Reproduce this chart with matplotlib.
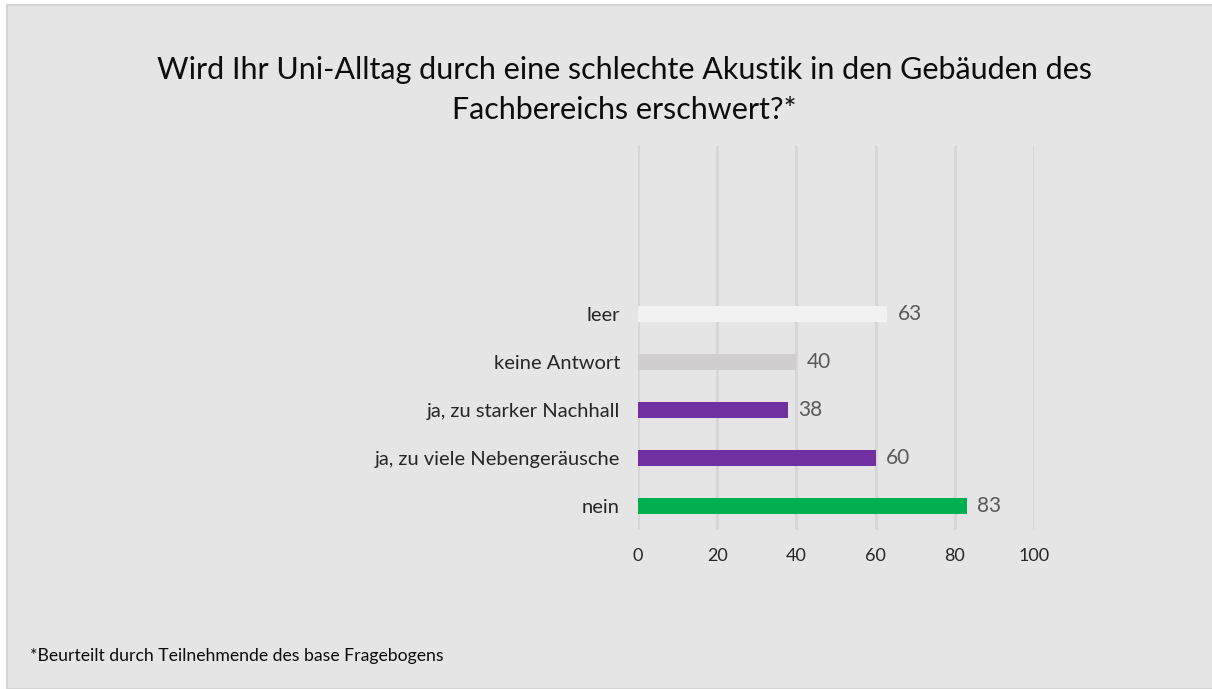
import matplotlib.pyplot as plt
from matplotlib.patches import Rectangle

plt.rcParams['font.family'] = ['Lato', 'DejaVu Sans']

# categories bottom -> top; top three slots are empty in the original chart
categories = ['nein', 'ja, zu viele Nebengeräusche', 'ja, zu starker Nachhall',
              'keine Antwort', 'leer', '', '', '']
values = [83, 60, 38, 40, 63, None, None, None]
bar_colors = ['#00b050', '#7030a0', '#7030a0', '#d0cece', '#f2f2f2', 'none', 'none', 'none']
xticks = [0, 20, 40, 60, 80, 100]

title = 'Wird Ihr Uni-Alltag durch eine schlechte Akustik in den Gebäuden des\nFachbereichs erschwert?*'
footnote = '*Beurteilt durch Teilnehmende des base Fragebogens'

W, H = 1212, 689
fig = plt.figure(figsize=(W / 100, H / 100), dpi=100, facecolor='white')
fig.patches.append(Rectangle((7 / W, 0), 1, 1 - 5 / H, transform=fig.transFigure,
                             facecolor='#e5e5e5', edgecolor='#d4d4d4', lw=1.5, zorder=-10))

ax = fig.add_axes([638 / W, 1 - 530 / H, (1034 - 638) / W, (530 - 146) / H])
ax.set_facecolor('none')
ax.set_zorder(5)

ypos = list(range(len(categories)))
for y, v, c in zip(ypos, values, bar_colors):
    if v is None:
        continue
    ax.barh(y, v, height=0.35, color=c, zorder=3)
    ax.text(v + 2.5, y, f'{v}', va='center', ha='left', fontsize=15, color='#595959')

ax.set_xlim(0, 100)
ax.set_ylim(-0.5, len(categories) - 0.5)
ax.set_xticks(xticks)
ax.set_xticklabels([str(t) for t in xticks], fontsize=13, color='#262626')
ax.set_yticks(ypos)
ax.set_yticklabels(categories, fontsize=14.5, color='#262626')
ax.tick_params(length=0, pad=13, axis='y')
ax.tick_params(length=0, pad=13, axis='x')
ax.grid(axis='x', color='#d6d6d6', lw=2, zorder=0)
for s in ax.spines.values():
    s.set_visible(False)

fig.text(0.515, 1 - 90 / H, title, ha='center', va='center', fontsize=22, color='#0d0d0d',
         linespacing=1.55)
fig.text(30 / W, 1 - 656 / H, footnote, ha='left', va='center', fontsize=12.7, color='#0d0d0d')

fig.savefig('out.png', dpi=100, facecolor=fig.get_facecolor())
